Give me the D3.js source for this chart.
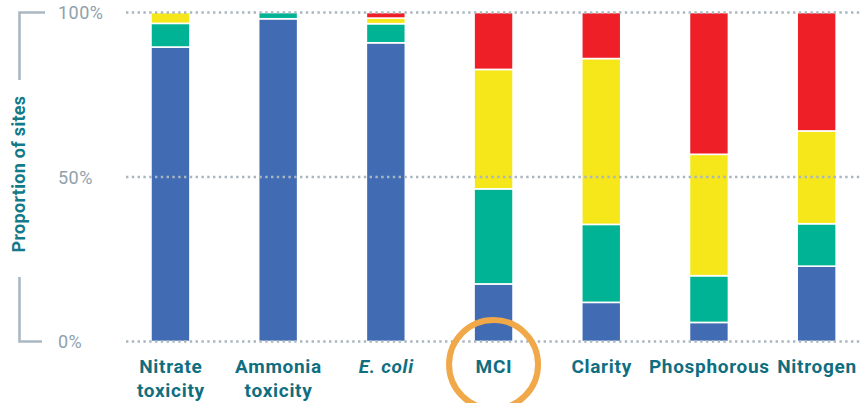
<!DOCTYPE html>
<html>
<head>
<meta charset="utf-8">
<script src="https://cdn.jsdelivr.net/npm/d3@7"></script>
<style>
  html, body { margin: 0; padding: 0; background: #fff; }
  svg { display: block; }
</style>
</head>
<body>
<svg id="chart" width="862" height="403"></svg>
<script>
// Indicators shown along the x axis (second entry is the line break)
const categories = [
  ["Nitrate", "toxicity"],
  ["Ammonia", "toxicity"],
  ["E. coli", ""],
  ["MCI", ""],
  ["Clarity", ""],
  ["Phosphorous", ""],
  ["Nitrogen", ""]
];
// Proportion of sites (%) in each grade, bottom to top
const gradeA = [89.5, 98.1, 90.8, 17.5, 11.9, 5.8, 22.9];
const gradeB = [7.2, 1.9, 5.8, 28.9, 23.7, 14.2, 12.9];
const gradeC = [3.3, 0, 1.7, 36.3, 50.4, 36.9, 28.2];
const gradeD = [0, 0, 1.7, 17.3, 14.0, 43.1, 36.0];
const gradeKeys = ["A", "B", "C", "D"];
const gradeColors = ["#416cb4", "#00b394", "#f6e71b", "#ee1f27"];
const yTicks = [0, 50, 100];
const highlighted = "MCI";

const svg = d3.select("#chart");
const names = categories.map(c => c[0]);

const rows = names.map((n, i) => ({
  name: n, A: gradeA[i], B: gradeB[i], C: gradeC[i], D: gradeD[i]
}));

const x = d3.scaleBand()
  .domain(names)
  .range([116.6, 870.5])
  .paddingInner(0.638)
  .paddingOuter(0.319);

const y = d3.scaleLinear().domain([0, 100]).range([341.5, 12.5]);

const stack = d3.stack().keys(gradeKeys)(rows);

// Stacked bars
svg.append("g").selectAll("g")
  .data(stack)
  .join("g")
  .attr("fill", (d, i) => gradeColors[i])
  .selectAll("rect")
  .data(d => d.filter(s => s[1] - s[0] > 0))
  .join("rect")
  .attr("x", d => x(d.data.name))
  .attr("width", x.bandwidth())
  .attr("y", d => y(d[1]))
  .attr("height", d => y(d[0]) - y(d[1]))
  .attr("stroke", "#fff")
  .attr("stroke-width", 1.6);

// Dotted gridlines drawn over the bars
svg.append("g").selectAll("line")
  .data(yTicks)
  .join("line")
  .attr("x1", 126)
  .attr("x2", 862)
  .attr("y1", d => y(d))
  .attr("y2", d => y(d))
  .attr("stroke", "#a8b6c0")
  .attr("stroke-width", 2.4)
  .attr("stroke-dasharray", "2.4 3.4");

// Tick labels
svg.append("g").selectAll("text")
  .data(yTicks)
  .join("text")
  .attr("x", 58)
  .attr("y", d => y(d) + 6.5)
  .attr("font-family", "Roboto, sans-serif")
  .attr("font-size", 18)
  .attr("letter-spacing", 0.5)
  .attr("fill", "#8fa1ab")
  .text(d => d + "%");

// Bracket lines around the axis title
const br = svg.append("g").attr("stroke", "#aab8c2").attr("stroke-width", 2.6).attr("fill", "none");
br.append("path").attr("d", `M45,${y(100)}H19.5V80`);
br.append("path").attr("d", `M19.5,277V${y(0)}H42`);

// Axis title
svg.append("text")
  .attr("transform", "translate(24.5,174) rotate(-90)")
  .attr("text-anchor", "middle")
  .attr("font-family", "Roboto, sans-serif")
  .attr("font-weight", 700)
  .attr("font-size", 18)
  .attr("letter-spacing", 0.3)
  .attr("fill", "#137a8a")
  .text("Proportion of sites");

// Highlight ring around one category label
const cx = x(highlighted) + x.bandwidth() / 2;
svg.append("circle")
  .attr("cx", cx)
  .attr("cy", 364.5)
  .attr("r", 44.5)
  .attr("fill", "none")
  .attr("stroke", "#f0a848")
  .attr("stroke-width", 6);

// Category labels
const lab = svg.append("g").selectAll("text")
  .data(categories)
  .join("text")
  .attr("text-anchor", "middle")
  .attr("font-family", "Roboto, sans-serif")
  .attr("font-weight", 700)
  .attr("font-size", 19)
  .attr("letter-spacing", 0.7)
  .attr("fill", "#0f6e7f")
  .attr("font-style", d => d[0] === "E. coli" ? "italic" : "normal");
lab.append("tspan")
  .attr("x", d => x(d[0]) + x.bandwidth() / 2 + 0.4)
  .attr("y", 373)
  .text(d => d[0]);
lab.append("tspan")
  .attr("x", d => x(d[0]) + x.bandwidth() / 2 + 0.4)
  .attr("y", 397)
  .text(d => d[1]);
</script>
</body>
</html>
